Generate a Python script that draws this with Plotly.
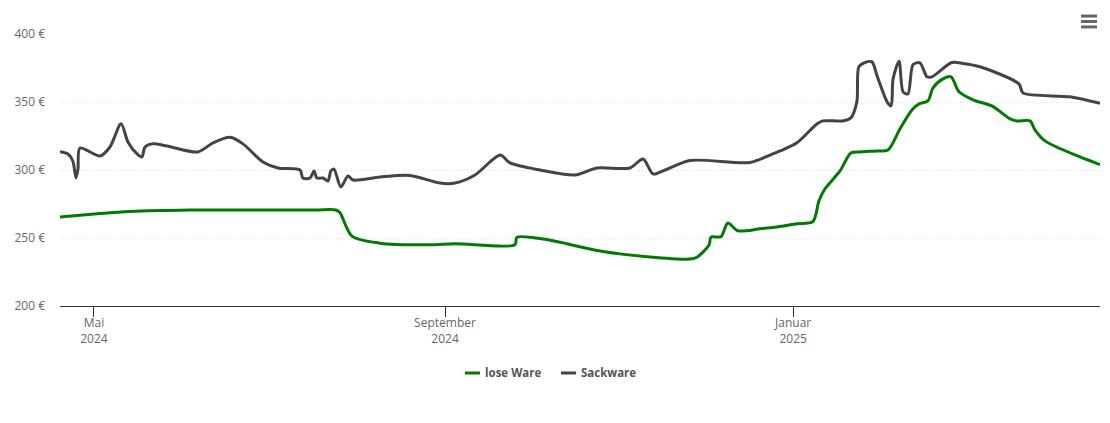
import pandas as pd
import plotly.graph_objects as go

# --- Data (days counted from 1 May 2024, euro per tonne) ---
start = pd.Timestamp("2024-05-01")

lose_days = [-11.9, 2.1, 12.6, 33.6, 50, 65, 78, 84.8, 86.2, 90.4, 100.2, 117.7, 126.5, 147.5, 148.2, 158, 177.3,
             194.8, 208.8, 211.3, 215.5, 216.2, 219.7, 222.1, 225.6, 233.4, 240.4, 246.3, 251.9, 254,
             256.1, 261.4, 265.2, 268.4, 274.4, 278.2, 282.4, 286.6, 289.1, 292.2, 294, 297.5, 300.3,
             303.1, 308, 314.6, 321, 323.4, 328, 329.7, 333.2, 345.5, 352.5]
lose_values = [265.5, 268, 269.5, 270.6, 270.6, 270.6, 270.6, 270.6, 268.6, 251.4, 246.2, 245, 245.8, 245, 250.5, 249, 240.5,
               236, 234.5, 235.9, 244.8, 250.6, 251, 261, 255.3, 256.8, 258.5, 260.5, 262, 277.2,
               286, 299.3, 312.5, 313.3, 314, 314.7, 330.2, 344.2, 348.6, 350.8, 360.4, 367, 368.5,
               357.5, 351.6, 347.1, 337.6, 336.1, 336.1, 329.5, 321.4, 309.6, 304]

sack_days = [-11.9, -9.1, -7.4, -6.3, -5.6, -4.9, 2.1, 5.6, 9.5, 11.9, 15.1, 16.8, 17.9, 20.3, 25.6, 36.4,
             41.7, 47.7, 52.2, 59.2, 64.5, 72.2, 73.2, 75.7, 77.1, 78.1, 80.2, 82, 83, 84.1, 86.5, 89, 90.8,
             100.2, 110.7, 121.2, 126.5, 133.5, 142.3, 145.8, 156.3, 168.5, 176.2, 187.8, 192.4, 195.9,
             200.1, 208.8, 229.9, 236.9, 240.4, 246.3, 253.3, 255.4, 262.4, 265.2, 267.3, 268, 270.1,
             272.6, 274.4, 277.9, 279.3, 280, 282.1, 283.5, 285.2, 287, 289.4, 291.9, 293.6, 300.6,
             304.5, 310.4, 324.1, 325.5, 342, 352.5]
sack_values = [313.5, 311.8, 306.6, 294.1, 300.7, 316.2, 310.3, 316.9, 334, 320.6, 311.8, 309.6, 316.9, 319.2, 317.7, 313.3,
               319.9, 324, 319.2, 305.9, 301.5, 300, 294.1, 294.1, 299.3, 294.1, 294.1, 291.9, 299.3, 300.7, 287.5, 295.6, 292.6,
               294.8, 296, 290.4, 290.4, 296.3, 311, 305.2, 300, 296.3, 301.5, 301.5, 308.1, 297.1,
               300, 307, 305.5, 311, 314, 320, 333.9, 336.1, 336.1, 338.3, 350.1, 375.9, 379,
               379.5, 369.2, 350.1, 347.1, 367, 380, 357.5, 356, 377.5, 378.8, 368.5, 368.5, 379,
               378.3, 375.9, 363.3, 356.7, 353.8, 349]

x_tick_dates = ["2024-05-01", "2024-09-01", "2025-01-01"]
x_tick_labels = ["Mai<br>2024", "September<br>2024", "Januar<br>2025"]
y_ticks = [200, 250, 300, 350, 400]
y_tick_labels = ["200 €", "250 €", "300 €", "350 €", "400 €"]

GREEN = "#007A00"
GREY = "#434348"
FONT = "Open Sans, sans-serif"


def to_dates(days):
    return [start + pd.Timedelta(days=d) for d in days]


def add_series(fig, days, values, name, color):
    fig.add_trace(go.Scatter(
        x=to_dates(days),
        y=values,
        name=name,
        mode="lines",
        line=dict(color=color, width=3, shape="spline", smoothing=0.8),
        hovertemplate=f"<b>{name}</b><br>%{{x|%d.%m.%Y}}<br>%{{y:.0f}} €<extra></extra>",
    ))


fig = go.Figure()
add_series(fig, lose_days, lose_values, "lose Ware", GREEN)
add_series(fig, sack_days, sack_values, "Sackware", GREY)

# hand-made legend, plotly's line samples can't go below 30px
shapes = [
    dict(type="line", xref="paper", yref="paper", x0=0.3894, x1=0.4038, y0=-0.2463, y1=-0.2463,
         line=dict(color=GREEN, width=3)),
    dict(type="line", xref="paper", yref="paper", x0=0.4817, x1=0.4962, y0=-0.2463, y1=-0.2463,
         line=dict(color=GREY, width=3)),
]
# menu icon top right
for y in [1.066, 1.046, 1.026]:
    shapes.append(dict(type="line", xref="paper", yref="paper", x0=0.9817, x1=0.9971, y0=y, y1=y,
                       line=dict(color="#666666", width=3)))

annotations = [
    dict(text="<b>lose Ware</b>", xref="paper", yref="paper", x=0.4067, y=-0.2463, xanchor="left",
         yanchor="middle", showarrow=False, font=dict(family=FONT, size=11.5, color="#555555")),
    dict(text="<b>Sackware</b>", xref="paper", yref="paper", x=0.4995, y=-0.2463, xanchor="left",
         yanchor="middle", showarrow=False, font=dict(family=FONT, size=11.5, color="#555555")),
]

fig.update_layout(
    width=1110,
    height=423,
    margin=dict(l=60, r=10, t=34, b=117),
    plot_bgcolor="white",
    paper_bgcolor="white",
    showlegend=False,
    font=dict(family=FONT, size=12, color="#666666"),
    shapes=shapes,
    annotations=annotations,
    xaxis=dict(
        type="date",
        range=[start + pd.Timedelta(days=-11.9), start + pd.Timedelta(days=352.5)],
        tickmode="array",
        tickvals=x_tick_dates,
        ticktext=x_tick_labels,
        ticks="outside",
        ticklen=10,
        tickcolor="#333333",
        ticklabelstandoff=-4,
        showgrid=False,
        showline=True,
        linecolor="#333333",
        linewidth=1,
        zeroline=False,
    ),
    yaxis=dict(
        range=[200, 400],
        tickmode="array",
        tickvals=y_ticks,
        ticktext=y_tick_labels,
        ticks="",
        ticklabelstandoff=14,
        griddash="1px,2px",
        gridcolor="#dddddd",
        gridwidth=1,
        zeroline=False,
        showline=False,
    ),
)

# browser's default body margin would push the chart 8px off
fig.write_html("out.html", config={"displayModeBar": False},
               post_script="document.body.style.margin='0';")
